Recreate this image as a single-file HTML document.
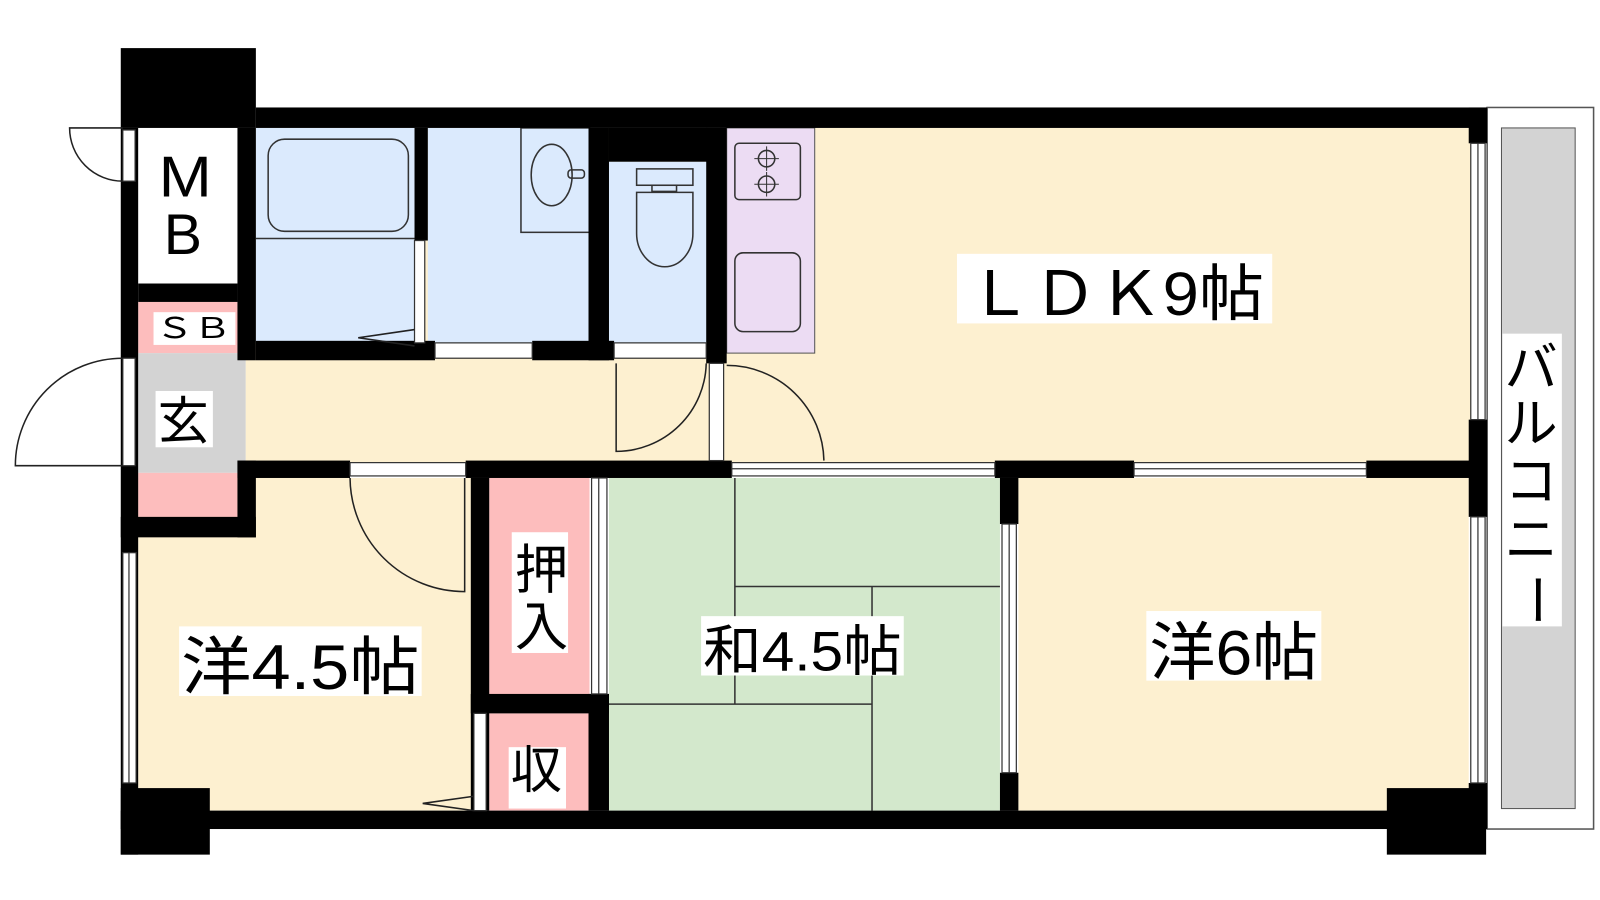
<!DOCTYPE html>
<html><head><meta charset="utf-8"><style>html,body{margin:0;padding:0;background:#fff}svg{display:block}text{font-family:"Liberation Sans","Noto Sans CJK JP",sans-serif;fill:#000}</style></head><body>
<svg width="1600" height="900" viewBox="0 0 1600 900" xmlns="http://www.w3.org/2000/svg">
<g transform="scale(1.0235)">
<!-- balcony -->
<rect x="1453" y="105" width="104" height="705" fill="#fff" stroke="#555" stroke-width="1.5"/>
<rect x="1467" y="125" width="72" height="665" fill="#d3d3d3" stroke="#555" stroke-width="1"/>
<!-- room fills -->
<rect x="240" y="125" width="1200" height="330" fill="#fdf0d0"/>
<rect x="250" y="125" width="155" height="210" fill="#dbeafd"/>
<rect x="418" y="125" width="158" height="210" fill="#dbeafd"/>
<rect x="595" y="158" width="96" height="177" fill="#dbeafd"/>
<rect x="710" y="125" width="86" height="220" fill="#ecdcf3" stroke="#555" stroke-width="1"/>
<rect x="135" y="125" width="97" height="152" fill="#fff"/>
<rect x="135" y="467" width="330" height="325" fill="#fdf0d0"/>
<rect x="135" y="295" width="97" height="50" fill="#fdbdbd"/>
<rect x="135" y="345" width="105" height="117" fill="#d3d3d3"/>
<rect x="135" y="462" width="97" height="43" fill="#fdbdbd"/>
<rect x="478" y="467" width="98" height="212" fill="#fdbdbd"/>
<rect x="478" y="697" width="98" height="95" fill="#fdbdbd"/>
<rect x="595" y="467" width="382" height="325" fill="#d3e8cc"/>
<rect x="995" y="467" width="440" height="325" fill="#fdf0d0"/>
<!-- tatami lines -->
<g stroke="#333" stroke-width="1.5">
<line x1="718" y1="467" x2="718" y2="688"/><line x1="718" y1="573" x2="977" y2="573"/>
<line x1="852" y1="573" x2="852" y2="792"/><line x1="595" y1="688" x2="852" y2="688"/>
</g>
<!-- fixtures -->
<g fill="none" stroke="#333" stroke-width="1.5">
<rect x="262" y="136" width="137" height="90" rx="16"/>
<line x1="250" y1="233" x2="405" y2="233"/>
<rect x="509" y="125" width="67" height="102"/>
<ellipse cx="539" cy="171" rx="20" ry="30"/>
<rect x="555" y="166" width="16" height="8" rx="3"/>
<rect x="622" y="165" width="55" height="16"/>
<rect x="637" y="181" width="24" height="6"/>
<path d="M622 188 H677 V228 A27 32 0 0 1 622 228 Z"/>
<rect x="718" y="140" width="64" height="55" rx="4"/>
<circle cx="749" cy="155" r="8"/><circle cx="749" cy="180" r="8"/>
<path d="M749 143V167M737 155H761M749 168V192M737 180H761" stroke-width="1"/>
<rect x="718" y="247" width="64" height="77" rx="8"/>
</g>
<!-- walls -->
<g fill="#000">
<rect x="118" y="47" width="132" height="78"/>
<rect x="250" y="105" width="1202" height="20"/>
<rect x="118" y="125" width="17" height="710"/>
<rect x="232" y="125" width="18" height="227"/>
<rect x="135" y="277" width="97" height="18"/>
<rect x="405" y="125" width="13" height="110"/>
<rect x="575" y="125" width="20" height="227"/>
<rect x="595" y="125" width="96" height="33"/>
<rect x="690" y="125" width="20" height="230"/>
<rect x="250" y="333" width="175" height="19"/>
<rect x="520" y="333" width="80" height="19"/>
<rect x="232" y="450" width="110" height="17"/>
<rect x="455" y="450" width="260" height="17"/>
<rect x="972" y="450" width="136" height="17"/>
<rect x="1335" y="450" width="117" height="17"/>
<rect x="232" y="450" width="18" height="75"/>
<rect x="118" y="505" width="132" height="20"/>
<rect x="460" y="467" width="18" height="325"/>
<rect x="460" y="678" width="135" height="19"/>
<rect x="575" y="678" width="20" height="114"/>
<rect x="977" y="467" width="18" height="45"/>
<rect x="977" y="755" width="18" height="37"/>
<rect x="1435" y="105" width="18" height="35"/>
<rect x="1435" y="410" width="18" height="95"/>
<rect x="1435" y="765" width="18" height="45"/>
<rect x="118" y="792" width="1334" height="18"/>
<rect x="118" y="770" width="87" height="65"/>
<rect x="1355" y="770" width="97" height="65"/>
</g>
<!-- windows/openings -->
<g fill="#fff" stroke="#333" stroke-width="1.2">
<rect x="1437" y="140" width="14" height="270"/><line x1="1444" y1="140" x2="1444" y2="410"/>
<rect x="1437" y="505" width="14" height="260"/><line x1="1444" y1="505" x2="1444" y2="765"/>
<rect x="715" y="452" width="257" height="13"/><line x1="715" y1="458" x2="972" y2="458"/>
<rect x="1108" y="452" width="227" height="13"/><line x1="1108" y1="458" x2="1335" y2="458"/>
<rect x="342" y="452" width="113" height="13"/>
<rect x="425" y="335" width="95" height="15"/>
<rect x="600" y="335" width="90" height="15"/>
<rect x="120" y="540" width="13" height="225"/><line x1="126" y1="540" x2="126" y2="765"/>
<rect x="979" y="512" width="14" height="243"/><line x1="986" y1="512" x2="986" y2="755"/>
<rect x="578" y="467" width="15" height="211"/><line x1="585" y1="467" x2="585" y2="678"/>
<rect x="120" y="127" width="12" height="50"/>
<rect x="120" y="350" width="12" height="105"/>
<rect x="405" y="235" width="10" height="100"/>
<rect x="693" y="355" width="14" height="95"/>
<rect x="463" y="697" width="12" height="95"/>
</g>
<!-- door swings -->
<g fill="none" stroke="#222" stroke-width="1.5">
<path d="M120 177 A52 52 0 0 1 68 125 H120"/>
<path d="M120 350 A105 105 0 0 0 15 455 H120"/>
<path d="M342 467 A112 112 0 0 0 454 578 V467"/>
<path d="M690 355 A88 88 0 0 1 602 441 V355"/>
<path d="M710 357 A95 95 0 0 1 805 450"/>
<path d="M405 322 L350 330 L405 338"/>
<path d="M463 778 L413 785 L463 792"/>
</g>
<!-- label boxes -->
<g fill="#fff">
<rect x="935" y="248" width="308" height="68"/>
<rect x="1120" y="597" width="171" height="68"/>
<rect x="685" y="602" width="198" height="58"/>
<rect x="175" y="612" width="237" height="68"/>
<rect x="500" y="520" width="55" height="118"/>
<rect x="497" y="730" width="56" height="60"/>
<rect x="152" y="382" width="56" height="55"/>
<rect x="150" y="305" width="80" height="32"/>
<rect x="1468" y="326" width="58" height="286"/>
</g>
<g font-size="60">
<text x="945" y="308" textLength="290" lengthAdjust="spacingAndGlyphs">ＬＤＫ9帖</text>
<text x="1123" y="659" font-size="62" textLength="165" lengthAdjust="spacingAndGlyphs">洋6帖</text>
<text x="687" y="655" font-size="54" textLength="194" lengthAdjust="spacingAndGlyphs">和4.5帖</text>
<text x="177" y="673" font-size="62" textLength="233" lengthAdjust="spacingAndGlyphs">洋4.5帖</text>
<text x="503" y="575" font-size="52">押</text>
<text x="503" y="630" font-size="52">入</text>
<text x="499" y="770" font-size="50">収</text>
<text x="154" y="429" font-size="50">玄</text>
<text x="152" y="330" font-size="28" textLength="74" lengthAdjust="spacingAndGlyphs">ＳＢ</text>
<text x="155" y="192" font-size="56" textLength="52" lengthAdjust="spacingAndGlyphs">M</text>
<text x="160" y="248" font-size="56">B</text>
<text x="1470" y="377" font-size="52">バ</text>
<text x="1470" y="432" font-size="52">ル</text>
<text x="1470" y="488" font-size="52">コ</text>
<text x="1470" y="545" font-size="52">ニ</text>
<g transform="translate(1497,585) rotate(90)"><text x="-25" y="14" font-size="52">ー</text></g>
</g>
</g>
</svg>
</body></html>
